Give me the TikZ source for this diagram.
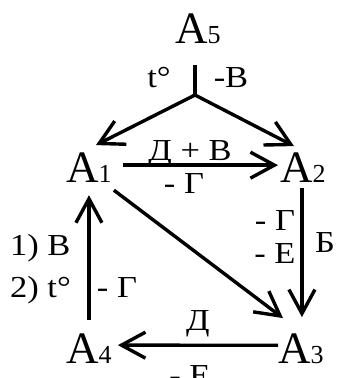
\documentclass[tikz,border=0pt]{standalone}
\usepackage{fontspec}
\setmainfont{Liberation Serif}
\newfontfamily\lblfont[FakeStretch=1.13]{Liberation Serif}
\usetikzlibrary{arrows.meta}
\begin{document}
\begin{tikzpicture}[x=1pt,y=-1pt,
  chem/.style={anchor=base west,inner sep=0pt,font=\fontsize{45}{45}\selectfont},
  lbl/.style={anchor=base,inner sep=0pt,font=\lblfont\fontsize{30.5}{30.5}\selectfont},
  arr/.style={line width=3.4pt,-{Straight Barb[length=24pt,width=26pt,line width=3.4pt]}}]
\clip (0,0) rectangle (337,378);
\useasboundingbox (0,0) rectangle (337,378);
\newcommand{\idx}[1]{{\fontsize{26}{26}\selectfont #1}}
% substances
\node[chem] (A5) at (175,43) {A\idx{5}};
\node[chem] (A1) at (66,182) {A\idx{1}};
\node[chem] (A2) at (280,182) {A\idx{2}};
\node[chem] (A3) at (278,363) {A\idx{3}};
\node[chem] (A4) at (66,363) {A\idx{4}};
% junction under A5
\coordinate (j) at (195,95);
\draw[line width=4.8pt] (j |- A5.south) ++(0,22) -- (j);
\draw[arr] (j) -- ([xshift=7pt,yshift=7pt]A1.north);
\draw[arr] (j) -- ([xshift=-9pt,yshift=6pt]A2.north);
% connectors
\draw[arr] ([xshift=11pt,yshift=2pt]A1.east) -- ([xshift=-2pt,yshift=2pt]A2.west);
\draw[arr] ([xshift=2pt,yshift=-8pt]A1.south east) -- ([xshift=5pt,yshift=15pt]A3.north west);
\draw[arr] ([xshift=-1pt,yshift=-6pt]A2.south) -- ([xshift=-1pt,yshift=16pt]A2.south |- A3.north);
\draw[arr] ([yshift=13pt]A4.north) -- ([yshift=-13pt]A4.north |- A1.south);
\draw[arr] ([yshift=3pt]A3.west) -- ([xshift=6pt,yshift=3pt]A4.east);
% labels
\node[lbl] (l1) at (159,87) {t°};
\node[lbl] (l2) at (231,87) {-В};
\node[lbl] (l3) at (190,160) {Д + В};
\node[lbl] (l4) at (184,193) {- Г};
\node[lbl] (l5) at (275,230) {- Г};
\node[lbl] (l6) at (275,263) {- Е};
\node[lbl] (l7) at (325,252) {Б};
\node[lbl,anchor=base west] (l8) at (10,255) {1) В};
\node[lbl,anchor=base west] (l9) at (10,297) {2) t°};
\node[lbl] (l10) at (117,297) {- Г};
\node[lbl] (l11) at (198,330) {Д};
\node[lbl] (l12) at (190,385) {- Е};
\end{tikzpicture}
\end{document}
